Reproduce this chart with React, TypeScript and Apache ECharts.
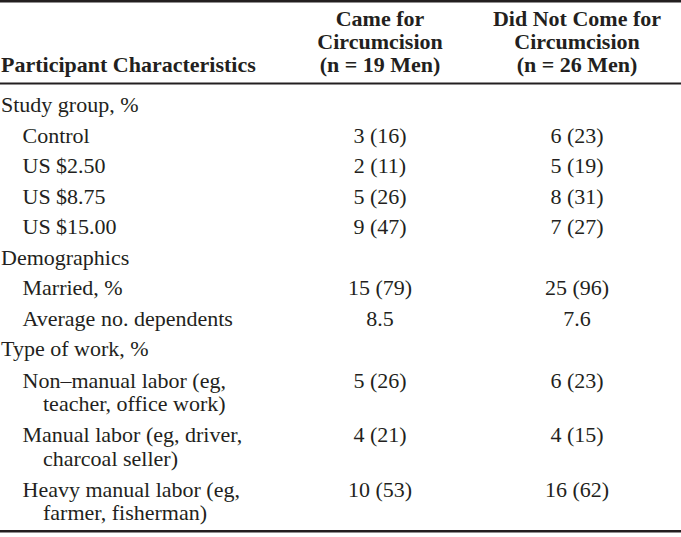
import React, { useEffect, useRef } from "react";
import * as echarts from "echarts";

const headerLabel = "Participant Characteristics";
const col1Header = ["Came for", "Circumcision", "(n = 19 Men)"];
const col2Header = ["Did Not Come for", "Circumcision", "(n = 26 Men)"];

const rowLabels: string[][] = [
  ["Study group, %"],
  ["Control"],
  ["US $2.50"],
  ["US $8.75"],
  ["US $15.00"],
  ["Demographics"],
  ["Married, %"],
  ["Average no. dependents"],
  ["Type of work, %"],
  ["Non\u2013manual labor (eg,", "teacher, office work)"],
  ["Manual labor (eg, driver,", "charcoal seller)"],
  ["Heavy manual labor (eg,", "farmer, fisherman)"],
];
const rowLevels = [0, 1, 1, 1, 1, 0, 1, 1, 0, 1, 1, 1];
const cameValues = ["", "3 (16)", "2 (11)", "5 (26)", "9 (47)", "", "15 (79)", "8.5", "", "5 (26)", "4 (21)", "10 (53)"];
const notCameValues = ["", "6 (23)", "5 (19)", "8 (31)", "7 (27)", "", "25 (96)", "7.6", "", "6 (23)", "4 (15)", "16 (62)"];

export default function App() {
  const ref = useRef<HTMLDivElement>(null);
  useEffect(() => {
    if (!ref.current) return;
    const chart = echarts.init(ref.current, null, { renderer: "svg" });
    const W = 681;
    const font = "Liberation Serif";
    const fs = 22;
    const mid = 7.4; // baseline -> middle offset
    const col1X = 380;
    const col2X = 577;
    const ink = "#231f20";
    const els: any[] = [];
    const txt = (x: number, baseline: number, text: string, align: string, bold = false) => ({
      type: "text",
      x,
      y: baseline - mid,
      style: {
        text,
        fontFamily: font,
        fontSize: fs,
        fontWeight: bold ? "bold" : "normal",
        fill: ink,
        align,
        verticalAlign: "middle",
      },
    });
    // rules
    els.push({ type: "rect", shape: { x: 0, y: 0, width: W, height: 2.5 }, style: { fill: ink } });
    els.push({ type: "rect", shape: { x: 0, y: 82.5, width: W, height: 2 }, style: { fill: ink } });
    els.push({ type: "rect", shape: { x: 0, y: 530, width: W, height: 2.5 }, style: { fill: ink } });
    // header
    const hb = [26, 49, 72];
    els.push(txt(1, 72, headerLabel, "left", true));
    col1Header.forEach((t, i) => els.push(txt(col1X, hb[i], t, "center", true)));
    col2Header.forEach((t, i) => els.push(txt(col2X, hb[i], t, "center", true)));
    // body
    const rowBase = [112, 142.5, 173, 203.5, 234, 264.5, 295, 325.5, 356, 387.5, 442, 496.5];
    const lineGap = 23.5;
    rowLabels.forEach((lines, r) => {
      const y = rowBase[r];
      const x = rowLevels[r] === 0 ? 1 : 22.5;
      lines.forEach((l, k) => els.push(txt(k === 0 ? x : 43, y + k * lineGap, l, "left")));
      if (cameValues[r]) els.push(txt(col1X, y, cameValues[r], "center"));
      if (notCameValues[r]) els.push(txt(col2X, y, notCameValues[r], "center"));
    });
    chart.setOption({
      animation: false,
      backgroundColor: "#ffffff",
      graphic: { elements: els },
    });
    return () => chart.dispose();
  }, []);
  return (
    <div
      ref={ref}
      style={{ position: "fixed", left: 0, top: 0, width: 681, height: 537, background: "#fff" }}
    />
  );
}
